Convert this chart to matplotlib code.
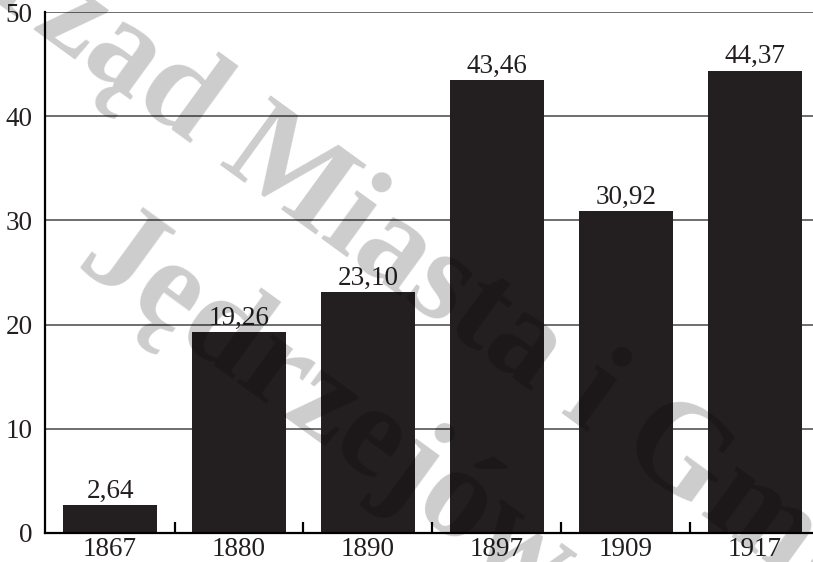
import matplotlib.pyplot as plt
import numpy as np

# Data
years = ['1867', '1880', '1890', '1897', '1909', '1917']
values = [2.64, 19.26, 23.10, 43.46, 30.92, 44.37]
y_ticks = [0, 10, 20, 30, 40, 50]

bar_color = '#231f20'
serif = 'Liberation Serif'

W, H = 813, 562
fig = plt.figure(figsize=(W / 100, H / 100), dpi=100)
ax = fig.add_axes([45 / W, 29 / H, (W - 45) / W, (533 - 12) / H])

x = np.arange(len(years))
ax.bar(x, values, width=0.73, color=bar_color, zorder=2)

for xi, v in zip(x, values):
    ax.annotate(f'{v:.2f}'.replace('.', ','), (xi, v), xytext=(0, 1),
                textcoords='offset points', ha='center', va='bottom',
                fontsize=19.5, family=serif, color='#231f20', zorder=3)

ax.set_xlim(-0.504, len(years) - 0.55)
ax.set_ylim(0, 50)

# horizontal grid
for t in y_ticks[1:]:
    ax.axhline(t, color='#555555', lw=1.2, zorder=1)

# ticks between bars point up, labels sit under the bar centres
ax.set_xticks(x[:-1] + 0.5)
ax.set_xticklabels([])
ax.tick_params(axis='x', which='major', direction='in', length=8, width=1.6, color='black')
ax.set_xticks(x, minor=True)
ax.set_xticklabels(years, minor=True, fontsize=19.5, family=serif, color='#231f20')
ax.tick_params(axis='x', which='minor', length=0, pad=3)

ax.set_yticks(y_ticks)
ax.set_yticklabels([str(t) for t in y_ticks], fontsize=19.5, family=serif, color='#231f20')
ax.tick_params(axis='y', length=0, pad=9)

for s in ['top', 'right']:
    ax.spines[s].set_visible(False)
ax.spines['left'].set_linewidth(1.6)
ax.spines['bottom'].set_linewidth(1.6)
ax.spines['left'].set_zorder(4)
ax.spines['bottom'].set_zorder(4)

# watermark, two lines on a diagonal (positions are baseline starts in pixels)
wm = dict(fontsize=95, family=serif, weight='bold', color='black', alpha=0.2,
          rotation=-36, rotation_mode='anchor', ha='left', va='baseline', zorder=10)
fig.text(-94 / W, 1 + 63 / H, 'Urząd Miasta i Gminy', **wm)
fig.text(73 / W, 1 - 267 / H, 'Jędrzejów', **wm)

fig.savefig('out.png', dpi=100)
